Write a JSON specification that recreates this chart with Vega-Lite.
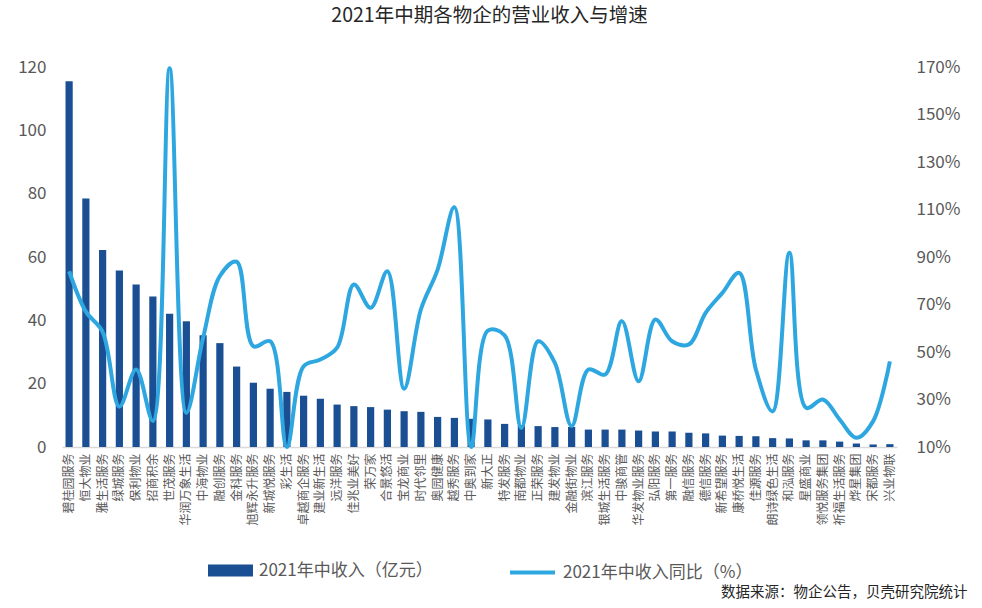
{
  "$schema": "https://vega.github.io/schema/vega-lite/v6.json",
  "width": 835,
  "height": 380,
  "autosize": {"type": "none"},
  "padding": {"left": 62, "top": 67, "right": 85, "bottom": 161},
  "background": "white",
  "config": {
    "font": "Noto Sans CJK SC",
    "view": {"stroke": null},
    "axis": {"grid": false, "ticks": false, "labelColor": "#595959", "labelFont": "Noto Sans CJK SC"}
  },
  "title": {
    "text": "2021年中期各物企的营业收入与增速",
    "anchor": "middle",
    "fontSize": 19.5,
    "fontWeight": "normal",
    "color": "#262626",
    "offset": 32,
    "dx": 10
  },
  "data": {
    "values": [
      {"name": "碧桂园服务", "rev": 115.5, "yoy": 84},
      {"name": "恒大物业", "rev": 78.5, "yoy": 67},
      {"name": "雅生活服务", "rev": 62.2, "yoy": 58.5},
      {"name": "绿城服务", "rev": 55.7, "yoy": 27},
      {"name": "保利物业", "rev": 51.3, "yoy": 42.6},
      {"name": "招商积余", "rev": 47.5, "yoy": 21},
      {"name": "世茂服务", "rev": 42.1, "yoy": 169.5},
      {"name": "华润万象生活", "rev": 39.7, "yoy": 24.4},
      {"name": "中海物业", "rev": 35.3, "yoy": 56},
      {"name": "融创服务", "rev": 32.8, "yoy": 82},
      {"name": "金科服务", "rev": 25.4, "yoy": 88},
      {"name": "旭辉永升服务", "rev": 20.3, "yoy": 52.4},
      {"name": "新城悦服务", "rev": 18.4, "yoy": 54.5},
      {"name": "彩生活", "rev": 17.4, "yoy": 10},
      {"name": "卓越商企服务", "rev": 16.2, "yoy": 44},
      {"name": "建业新生活", "rev": 15.2, "yoy": 46.8},
      {"name": "远洋服务", "rev": 13.4, "yoy": 51.8},
      {"name": "佳兆业美好", "rev": 12.9, "yoy": 78.4},
      {"name": "荣万家", "rev": 12.6, "yoy": 68.6},
      {"name": "合景悠活", "rev": 11.8, "yoy": 84},
      {"name": "宝龙商业", "rev": 11.3, "yoy": 34.5},
      {"name": "时代邻里", "rev": 11.1, "yoy": 67.9},
      {"name": "奥园健康", "rev": 9.5, "yoy": 84.7},
      {"name": "越秀服务", "rev": 9.2, "yoy": 111},
      {"name": "中奥到家", "rev": 8.9, "yoy": 10},
      {"name": "新大正", "rev": 8.7, "yoy": 59},
      {"name": "特发服务", "rev": 7.3, "yoy": 57},
      {"name": "南都物业", "rev": 6.9, "yoy": 18},
      {"name": "正荣服务", "rev": 6.6, "yoy": 54.5},
      {"name": "建发物业", "rev": 6.3, "yoy": 45.4},
      {"name": "金融街物业", "rev": 6.3, "yoy": 18.8},
      {"name": "滨江服务", "rev": 5.5, "yoy": 42.6},
      {"name": "银城生活服务", "rev": 5.5, "yoy": 40.5},
      {"name": "中骏商管", "rev": 5.5, "yoy": 63},
      {"name": "华发物业服务", "rev": 5.2, "yoy": 37.7},
      {"name": "弘阳服务", "rev": 4.9, "yoy": 63.7},
      {"name": "第一服务", "rev": 4.9, "yoy": 54.5},
      {"name": "融信服务", "rev": 4.5, "yoy": 53.2},
      {"name": "德信服务", "rev": 4.3, "yoy": 66.5},
      {"name": "新希望服务", "rev": 3.6, "yoy": 74.9},
      {"name": "康桥悦生活", "rev": 3.5, "yoy": 83.3},
      {"name": "佳源服务", "rev": 3.4, "yoy": 42.6},
      {"name": "朗诗绿色生活", "rev": 2.8, "yoy": 25},
      {"name": "和泓服务", "rev": 2.7, "yoy": 91.8},
      {"name": "星盛商业", "rev": 2.1, "yoy": 26.5},
      {"name": "领悦服务集团", "rev": 2.1, "yoy": 30},
      {"name": "祈福生活服务", "rev": 1.7, "yoy": 21.6},
      {"name": "烨星集团", "rev": 1.1, "yoy": 13.9},
      {"name": "宋都服务", "rev": 0.8, "yoy": 20.9},
      {"name": "兴业物联", "rev": 0.9, "yoy": 46.1}
    ]
  },
  "encoding": {
    "x": {
      "field": "name",
      "type": "nominal",
      "sort": null,
      "scale": {"paddingInner": 0.57, "paddingOuter": 0.21},
      "axis": {
        "labelAngle": -90,
        "labelFontSize": 12,
        "labelPadding": 6,
        "domainColor": "#d9d9d9",
        "domainWidth": 1.5,
        "title": "数据来源：物企公告，贝壳研究院统计",
        "titleFontSize": 14.5,
        "titleFontWeight": "normal",
        "titleColor": "#262626",
        "titleAnchor": "end",
        "titleAlign": "right",
        "titleX": 905,
        "titleY": 145,
        "titleBaseline": "middle"
      }
    }
  },
  "layer": [
    {
      "mark": {"type": "bar"},
      "encoding": {
        "y": {
          "field": "rev",
          "type": "quantitative",
          "scale": {"domain": [0, 120]},
          "axis": {
            "title": null,
            "values": [0, 20, 40, 60, 80, 100, 120],
            "domain": false,
            "labelFontSize": 17,
            "labelPadding": 16
          }
        },
        "color": {
          "datum": "2021年中收入（亿元）",
          "type": "nominal",
          "scale": {"range": ["#1b4f93"]},
          "legend": {
            "title": null,
            "orient": "none",
            "legendX": 146,
            "legendY": 481,
            "symbolType": "M-1,-0.27H1V0.27H-1Z",
            "symbolSize": 2025,
            "symbolStrokeWidth": 0,
            "labelFontSize": 17,
            "labelColor": "#595959",
            "labelOffset": 6,
            "labelLimit": 400
          }
        }
      }
    },
    {
      "mark": {"type": "line", "interpolate": "catmull-rom", "strokeWidth": 4},
      "encoding": {
        "y": {
          "field": "yoy",
          "type": "quantitative",
          "scale": {"domain": [10, 170], "zero": false},
          "axis": {
            "title": null,
            "orient": "right",
            "values": [10, 30, 50, 70, 90, 110, 130, 150, 170],
            "labelExpr": "datum.value + '%'",
            "domain": false,
            "labelFontSize": 17,
            "labelPadding": 19
          }
        },
        "stroke": {
          "datum": "2021年中收入同比（%）",
          "type": "nominal",
          "scale": {"range": ["#2ea7e0"]},
          "legend": {
            "title": null,
            "orient": "none",
            "legendX": 446,
            "legendY": 481,
            "symbolType": "stroke",
            "symbolSize": 2025,
            "symbolStrokeWidth": 4,
            "labelFontSize": 17,
            "labelColor": "#595959",
            "labelOffset": 6,
            "labelLimit": 400
          }
        }
      }
    }
  ],
  "resolve": {"scale": {"y": "independent"}}
}
